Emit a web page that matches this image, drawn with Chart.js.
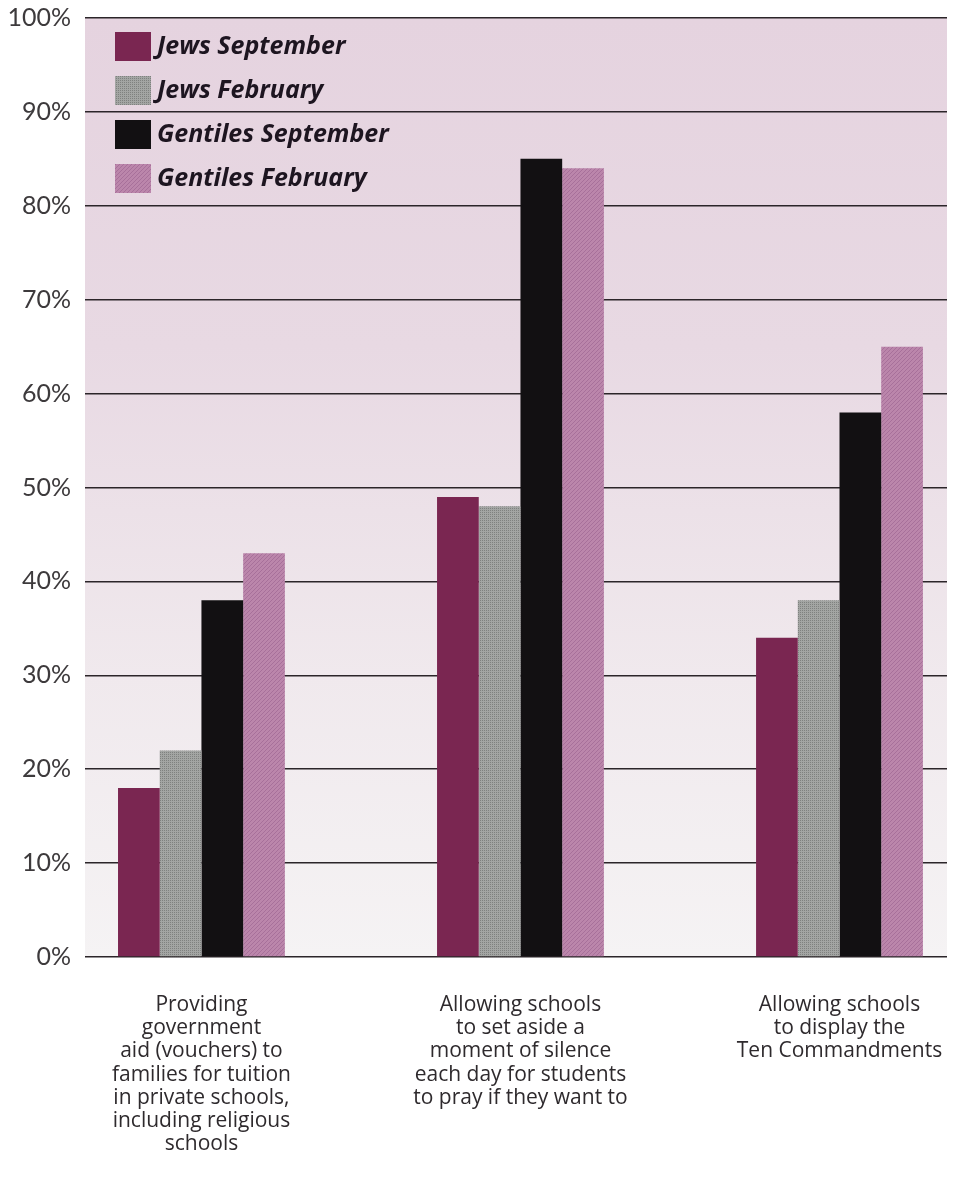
<!DOCTYPE html>
<html>
<head>
<meta charset="utf-8">
<script src="https://cdn.jsdelivr.net/npm/chart.js@4/dist/chart.umd.min.js"></script>
<style>
  html, body { margin: 0; padding: 0; background: #ffffff; }
  #wrap { width: 957px; height: 1181px; }
</style>
</head>
<body>
<div id="wrap"><canvas id="chart"></canvas></div>
<script>
// survey questions (x axis), one line per array entry
const categories = [
  ["Providing", "government", "aid (vouchers) to", "families for tuition", "in private schools,", "including religious", "schools"],
  ["Allowing schools", "to set aside a", "moment of silence", "each day for students", "to pray if they want to"],
  ["Allowing schools", "to display the", "Ten Commandments"]
];
const seriesNames = ["Jews September", "Jews February", "Gentiles September", "Gentiles February"];
const jewsSep = [18, 49, 34];
const jewsFeb = [22, 48, 38];
const gentSep = [38, 85, 58];
const gentFeb = [43, 84, 65];
const yTicks = [0, 10, 20, 30, 40, 50, 60, 70, 80, 90, 100];

// small textures for the printed look
function makePattern(base, alt, kind) {
  const c = document.createElement('canvas');
  c.width = 4; c.height = 4;
  const g = c.getContext('2d');
  g.fillStyle = base;
  g.fillRect(0, 0, 4, 4);
  g.fillStyle = alt;
  if (kind === 'dots') {
    g.fillRect(0, 0, 1, 1); g.fillRect(2, 2, 1, 1);
    g.fillRect(2, 0, 1, 1); g.fillRect(0, 2, 1, 1);
  } else {
    for (let i = 0; i < 4; i++) g.fillRect(3 - i, i, 1, 1);
  }
  return g.createPattern(c, 'repeat');
}

const fills = [
  '#7a2651',
  makePattern('#a3a5a3', '#7f817f', 'dots'),
  '#121012',
  makePattern('#bb86ab', '#a7709a', 'hatch')
];
const seriesData = [jewsSep, jewsFeb, gentSep, gentFeb];

const datasets = seriesData.map((vals, k) => ({
  label: seriesNames[k],
  data: vals.map((v, i) => ({ x: i, y: v })),
  backgroundColor: fills[k],
  borderWidth: 0,
  categoryPercentage: 0.523,
  barPercentage: 1.0
}));

// pinkish wash behind the plot, fading out towards the baseline
const plotBackground = {
  id: 'plotBackground',
  beforeDraw(chart) {
    const { ctx, chartArea: a } = chart;
    const grad = ctx.createLinearGradient(0, a.top, 0, a.bottom);
    grad.addColorStop(0, '#e5d3df');
    grad.addColorStop(0.35, '#e8d9e3');
    grad.addColorStop(0.7, '#f0e9ed');
    grad.addColorStop(1, '#f5f3f4');
    ctx.save();
    ctx.fillStyle = grad;
    ctx.fillRect(a.left, a.top, a.right - a.left, a.bottom - a.top);
    ctx.restore();
  }
};

// legend boxed in the top-left corner of the plot
const cornerLegend = {
  id: 'cornerLegend',
  afterDatasetsDraw(chart) {
    const { ctx, chartArea: a } = chart;
    ctx.save();
    ctx.font = 'italic bold 25px "Open Sans"';
    ctx.textBaseline = 'middle';
    chart.data.datasets.forEach((ds, k) => {
      const y = a.top + 14 + k * 44;
      ctx.fillStyle = ds.backgroundColor;
      ctx.fillRect(a.left + 30, y, 36, 29);
      ctx.fillStyle = '#1d1520';
      ctx.fillText(ds.label, a.left + 72, y + 15);
    });
    ctx.restore();
  }
};

new Chart(document.getElementById('chart'), {
  type: 'bar',
  data: { datasets },
  options: {
    responsive: true,
    maintainAspectRatio: false,
    animation: false,
    layout: { padding: { top: 18, right: 10, left: 0, bottom: 0 } },
    plugins: {
      legend: { display: false },
      tooltip: { enabled: false }
    },
    scales: {
      x: {
        type: 'linear',
        bounds: 'data',
        offset: false,
        min: -0.365,
        max: 2.337,
        afterBuildTicks(scale) {
          scale.ticks = categories.map((c, i) => ({ value: i }));
        },
        afterFit(scale) {
          scale.height = 224;
          scale.paddingLeft = 0;
          scale.paddingRight = 0;
        },
        grid: { display: false },
        border: { display: false },
        ticks: {
          callback: (v) => categories[v],
          color: '#2e2a2d',
          font: { family: 'Open Sans', size: 21, lineHeight: 1.11 },
          padding: 28,
          maxRotation: 0,
          autoSkip: false
        }
      },
      y: {
        min: 0,
        max: 100,
        afterBuildTicks(scale) {
          scale.ticks = yTicks.map(v => ({ value: v }));
        },
        afterFit(scale) {
          scale.width = 85;
          scale.paddingTop = 0;
          scale.paddingBottom = 0;
        },
        grid: { color: '#2b2529', lineWidth: 1.5, drawTicks: false },
        border: { display: false },
        ticks: {
          callback: (v) => v + '%',
          color: '#3d3a3c',
          font: { family: 'Lato', size: 25 },
          padding: 14
        }
      }
    }
  },
  plugins: [plotBackground, cornerLegend]
});
</script>
</body>
</html>
